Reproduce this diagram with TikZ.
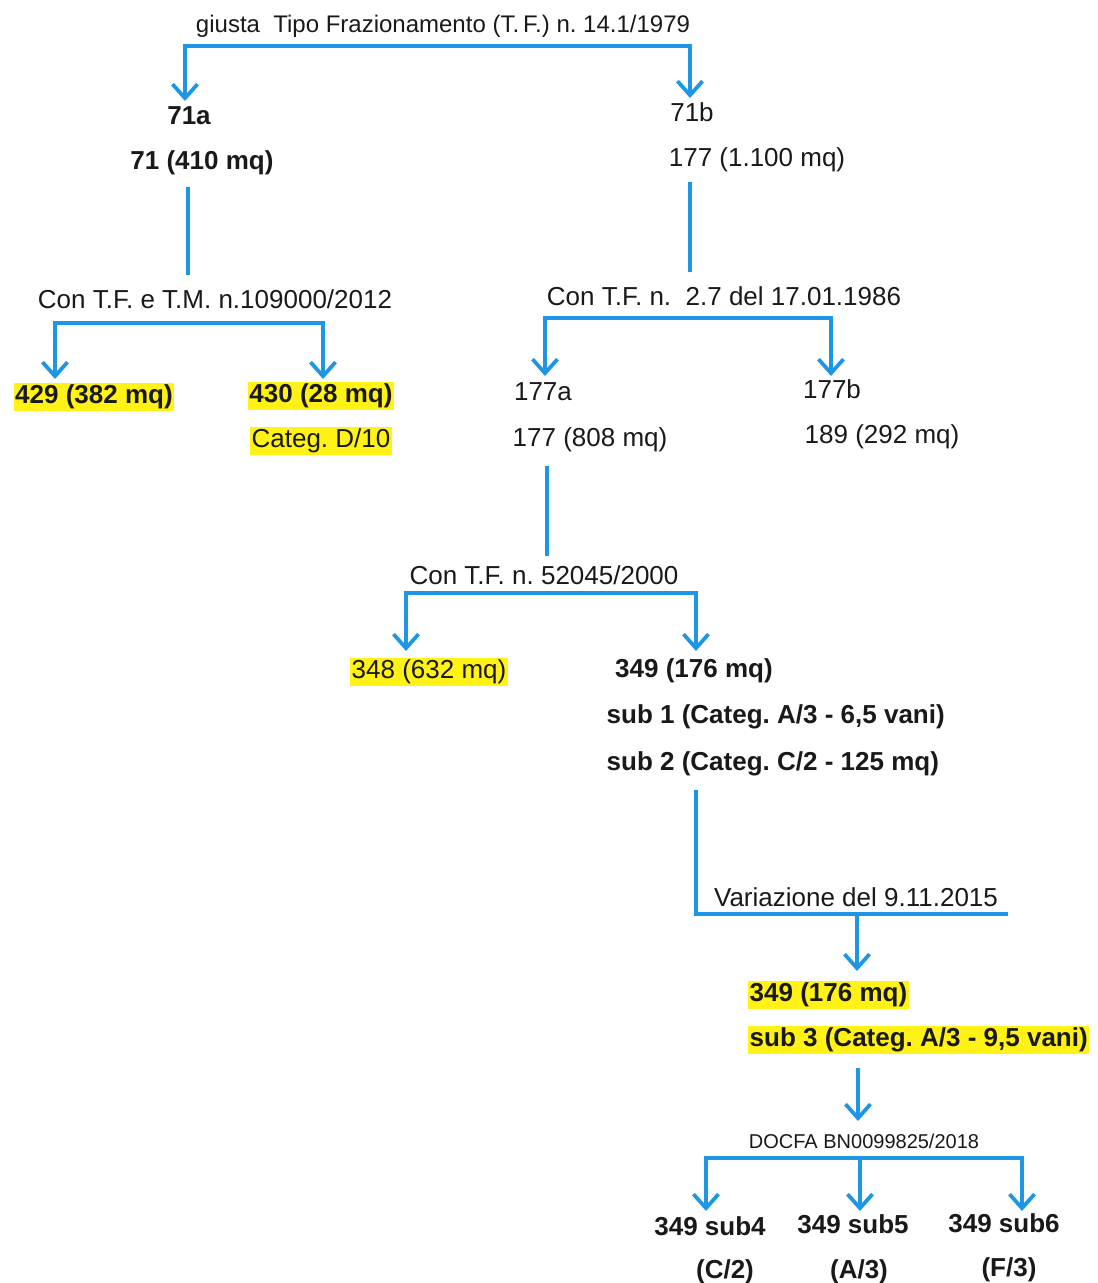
\documentclass[tikz,border=0pt]{standalone}
\usepackage{fontspec}
\setmainfont{Liberation Sans}
\usetikzlibrary{arrows.meta}
\definecolor{lineblue}{RGB}{30,150,230}
\definecolor{hlyellow}{RGB}{255,242,20}
\definecolor{ink}{RGB}{25,25,25}
\newcommand\fsz{\fontsize{26}{30}\selectfont}
\frenchspacing
\tikzset{
  conn/.style={draw=lineblue, line width=3.8pt, line join=miter},
  tipd/.style={conn, -{Straight Barb[length=14pt,width=25pt]}},
  bra/.style={conn, {Straight Barb[length=14pt,width=25pt]}-{Straight Barb[length=14pt,width=25pt]}},
  lbl/.style={font=\fsz, text=ink, inner sep=1.5pt, text height=19.5pt, text depth=6pt},
  blbl/.style={lbl, font=\fsz\bfseries},
  hl/.style={fill=hlyellow},
}
\begin{document}
\begin{tikzpicture}[x=1pt,y=-1pt]
\useasboundingbox (0,0) rectangle (1098,1283);

% ---- labels ----
\node[lbl, font=\fontsize{24}{28}\selectfont] (t1) at (443,26) {giusta\ \ Tipo Frazionamento (T.\,F.) n. 14.1/1979};
\node[blbl] (n71a) at (189,118) {71a};
\node[blbl] (n71) at (202,163) {71 (410 mq)};
\node[lbl] (n71b) at (692,115) {71b};
\node[lbl] (n177) at (757,160) {177 (1.100 mq)};

\node[lbl] (c2) at (215,302) {Con T.F. e T.M. n.109000/2012};
\node[blbl, hl] (n429) at (94,397) {429 (382 mq)};
\node[blbl, hl] (n430) at (321,396) {430 (28 mq)};
\node[lbl, hl] (nD10) at (321,441) {Categ. D/10};

\node[lbl] (c3) at (724,299) {Con T.F. n.\ \ 2.7 del 17.01.1986};
\node[lbl] (n177a) at (543,394) {177a};
\node[lbl] (n177b) at (832,392) {177b};
\node[lbl] (n808) at (590,440) {177 (808 mq)};
\node[lbl] (n189) at (882,437) {189 (292 mq)};

\node[lbl] (c4) at (544,578) {Con T.F. n. 52045/2000};
\node[lbl, hl] (n348) at (429,672) {348 (632 mq)};
\node[blbl] (n349) at (694,671) {349 (176 mq)};
\node[blbl, anchor=west] (nsub1) at (605,717) {sub 1 (Categ. A/3 - 6,5 vani)};
\node[blbl, anchor=west] (nsub2) at (605,764) {sub 2 (Categ. C/2 - 125 mq)};

\node[lbl] (cV) at (856,900) {Variazione del 9.11.2015};
\node[blbl, hl, anchor=west] (n349b) at (748,995) {349 (176 mq)};
\node[blbl, hl, anchor=west] (nsub3) at (748,1040) {sub 3 (Categ. A/3 - 9,5 vani)};

\node[lbl, font=\fontsize{20}{24}\selectfont, text height=15pt, text depth=5pt] (cD) at (864,1143) {DOCFA BN0099825/2018};
\node[blbl] (s4) at (710,1229) {349 sub4};
\node[blbl] (s5) at (853,1227) {349 sub5};
\node[blbl] (s6) at (1004,1226) {349 sub6};
\node[blbl] (p4) at (725,1272) {(C/2)};
\node[blbl] (p5) at (859,1272) {(A/3)};
\node[blbl] (p6) at (1009,1270) {(F/3)};

% ---- connector geometry ----
\coordinate (a1L) at (185,101);
\coordinate (b1M) at (440,46);
\coordinate (a1R) at (690,98);

\coordinate (v1a) at (188,187);
\coordinate (v1b) at (188,275);
\coordinate (v2a) at (690,182);
\coordinate (v2b) at (690,272);

\coordinate (a2L) at (55,379);
\coordinate (b2M) at (190,323);
\coordinate (a2R) at (323,379);

\coordinate (a3L) at (545,376);
\coordinate (b3M) at (690,318);
\coordinate (a3R) at (831,376);

\coordinate (v3a) at (547,466);
\coordinate (v3b) at (547,556);

\coordinate (a4L) at (406,651);
\coordinate (b4M) at (547,593);
\coordinate (a4R) at (696,651);

\coordinate (v4a) at (696,790);
\coordinate (v4c) at (1008,914);
\coordinate (v4m) at (857,914);
\coordinate (a5) at (857,971);

\coordinate (v5a) at (858,1068);
\coordinate (a6) at (858,1121);

\coordinate (a7L) at (706,1211);
\coordinate (a7M) at (860,1211);
\coordinate (a7R) at (1022,1211);
\coordinate (b7) at (860,1158);

% ---- connectors ----
\draw[bra] (a1L) |- (b1M) -| (a1R);
\draw[conn] (v1a) -- (v1b);
\draw[conn] (v2a) -- (v2b);
\draw[bra] (a2L) |- (b2M) -| (a2R);
\draw[bra] (a3L) |- (b3M) -| (a3R);
\draw[conn] (v3a) -- (v3b);
\draw[bra] (a4L) |- (b4M) -| (a4R);
\draw[conn] (v4a) |- (v4c);
\draw[tipd] (v4m) -- (a5);
\draw[tipd] (v5a) -- (a6);
\draw[bra] (a7L) |- (b7) -| (a7R);
\draw[tipd] (b7) -- (a7M);
\end{tikzpicture}
\end{document}
